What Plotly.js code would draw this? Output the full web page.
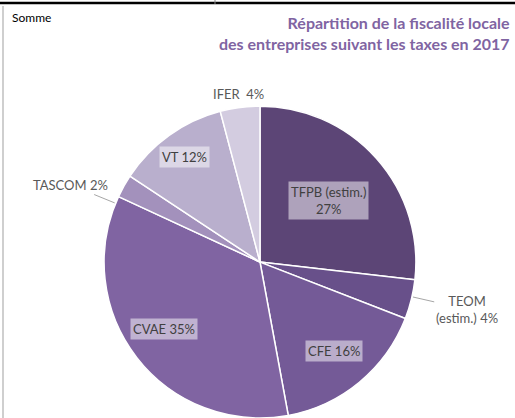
<!DOCTYPE html>
<html><head><meta charset="utf-8">
<script src="https://cdn.plot.ly/plotly-3.0.1.min.js"></script>
<style>html,body{margin:0;padding:0;background:#fff}</style>
</head><body><div id="chart" style="width:515px;height:418px"></div>
<script>
// ---- data ----
const categories = ['TFPB (estim.)', 'TEOM (estim.)', 'CFE', 'CVAE', 'TASCOM', 'VT', 'IFER'];
const values = [26.8, 4.1, 16.2, 34.8, 2.4, 11.6, 4.1];
const labelPrefix = ['TFPB (estim.)<br>', 'TEOM<br>(estim.) ', 'CFE ', 'CVAE ', 'TASCOM ', 'VT ', 'IFER  '];
const titleText = 'Répartition de la fiscalité locale<br>des entreprises suivant les taxes en 2017';
const cornerText = 'Somme';

// ---- style ----
const colors = ['#5c4576', '#68508a', '#745a97', '#8064a2', '#a391bc', '#b9afcd', '#d3cce0'];
const labelRadius = [0.59, 1.36, 0.74, 0.75, 1.31, 0.83, 1.09];
const labelNudge = [0, -1, 0, 3, -7, 0, 0];
const labelInside = [true, false, true, true, false, true, false];
const labelLeader = [false, true, false, false, true, false, false];
const FONT = 'Lato, "Open Sans", sans-serif';

const W = 515, H = 418;
const domX = [0.2, 0.8097], domY = [0, 0.746];
const cx = W * (domX[0] + domX[1]) / 2;
const cy = H * (1 - (domY[0] + domY[1]) / 2);
const R = Math.min(W * (domX[1] - domX[0]), H * (domY[1] - domY[0])) / 2;

const total = values.reduce((a, b) => a + b, 0);
const annotations = [];
let cum = 0;
values.forEach((v, i) => {
  const mid = (cum + v / 2) / total * 360 + labelNudge[i];
  cum += v;
  const a = mid * Math.PI / 180;
  const tx = cx + Math.sin(a) * R * labelRadius[i];
  const ty = cy - Math.cos(a) * R * labelRadius[i];
  const txt = labelPrefix[i] + Math.round(v / total * 100) + '%';
  if (labelLeader[i]) {
    const ex = cx + Math.sin(a) * R * 1.0;
    const ey = cy - Math.cos(a) * R * 1.0;
    annotations.push({
      x: ex / W, y: 1 - ey / H, xref: 'paper', yref: 'paper',
      ax: tx - ex, ay: ty - ey, axref: 'pixel', ayref: 'pixel',
      showarrow: true, arrowhead: 0, arrowwidth: 1, arrowcolor: '#a6a6a6', standoff: 1,
      text: txt, font: {family: FONT, size: 13, color: '#595959'}, align: 'center'
    });
  } else {
    annotations.push({
      x: tx / W, y: 1 - ty / H, xref: 'paper', yref: 'paper', showarrow: false,
      xanchor: 'center', yanchor: 'middle',
      text: txt, align: 'center',
      font: {family: FONT, size: 13, color: labelInside[i] ? '#404040' : '#595959'},
      bgcolor: labelInside[i] ? 'rgba(255,255,255,0.5)' : 'rgba(0,0,0,0)', borderpad: 2
    });
  }
});
annotations.push({
  x: 10 / W, y: 1 - 17 / H, xref: 'paper', yref: 'paper', xanchor: 'left', yanchor: 'middle',
  showarrow: false, text: cornerText, font: {family: FONT, size: 12, color: '#000'}
});
annotations.push({
  x: 1 - 3 / W, y: 1 - 11 / H, xref: 'paper', yref: 'paper', xanchor: 'right', yanchor: 'top',
  showarrow: false, align: 'right', text: '<b>' + titleText + '</b>',
  font: {family: FONT, size: 16, color: '#8064a2'}
});

const trace = {
  type: 'pie', labels: categories, values: values, sort: false, direction: 'clockwise',
  rotation: 0, textinfo: 'none', hoverinfo: 'label+percent',
  marker: {colors: colors, line: {color: '#ffffff', width: 1.5}},
  domain: {x: domX, y: domY}, showlegend: false
};

const layout = {
  width: W, height: H, margin: {l: 0, r: 0, t: 0, b: 0},
  paper_bgcolor: '#fff', plot_bgcolor: '#fff', showlegend: false,
  annotations: annotations,
  shapes: [
    {type: 'line', xref: 'paper', yref: 'paper', x0: 0, x1: 1, y0: 1 - 3 / H, y1: 1 - 3 / H, line: {color: '#000', width: 2.5}},
    {type: 'line', xref: 'paper', yref: 'paper', x0: 215 / W, x1: 215 / W, y0: 1, y1: 1 - 4 / H, line: {color: '#888', width: 1}},
    {type: 'line', xref: 'paper', yref: 'paper', x0: 3 / W, x1: 3 / W, y0: 1 - 6 / H, y1: 0, line: {color: '#bfbfbf', width: 1.5}}
  ]
};
Plotly.newPlot('chart', [trace], layout, {displayModeBar: false, staticPlot: true});
</script></body></html>
